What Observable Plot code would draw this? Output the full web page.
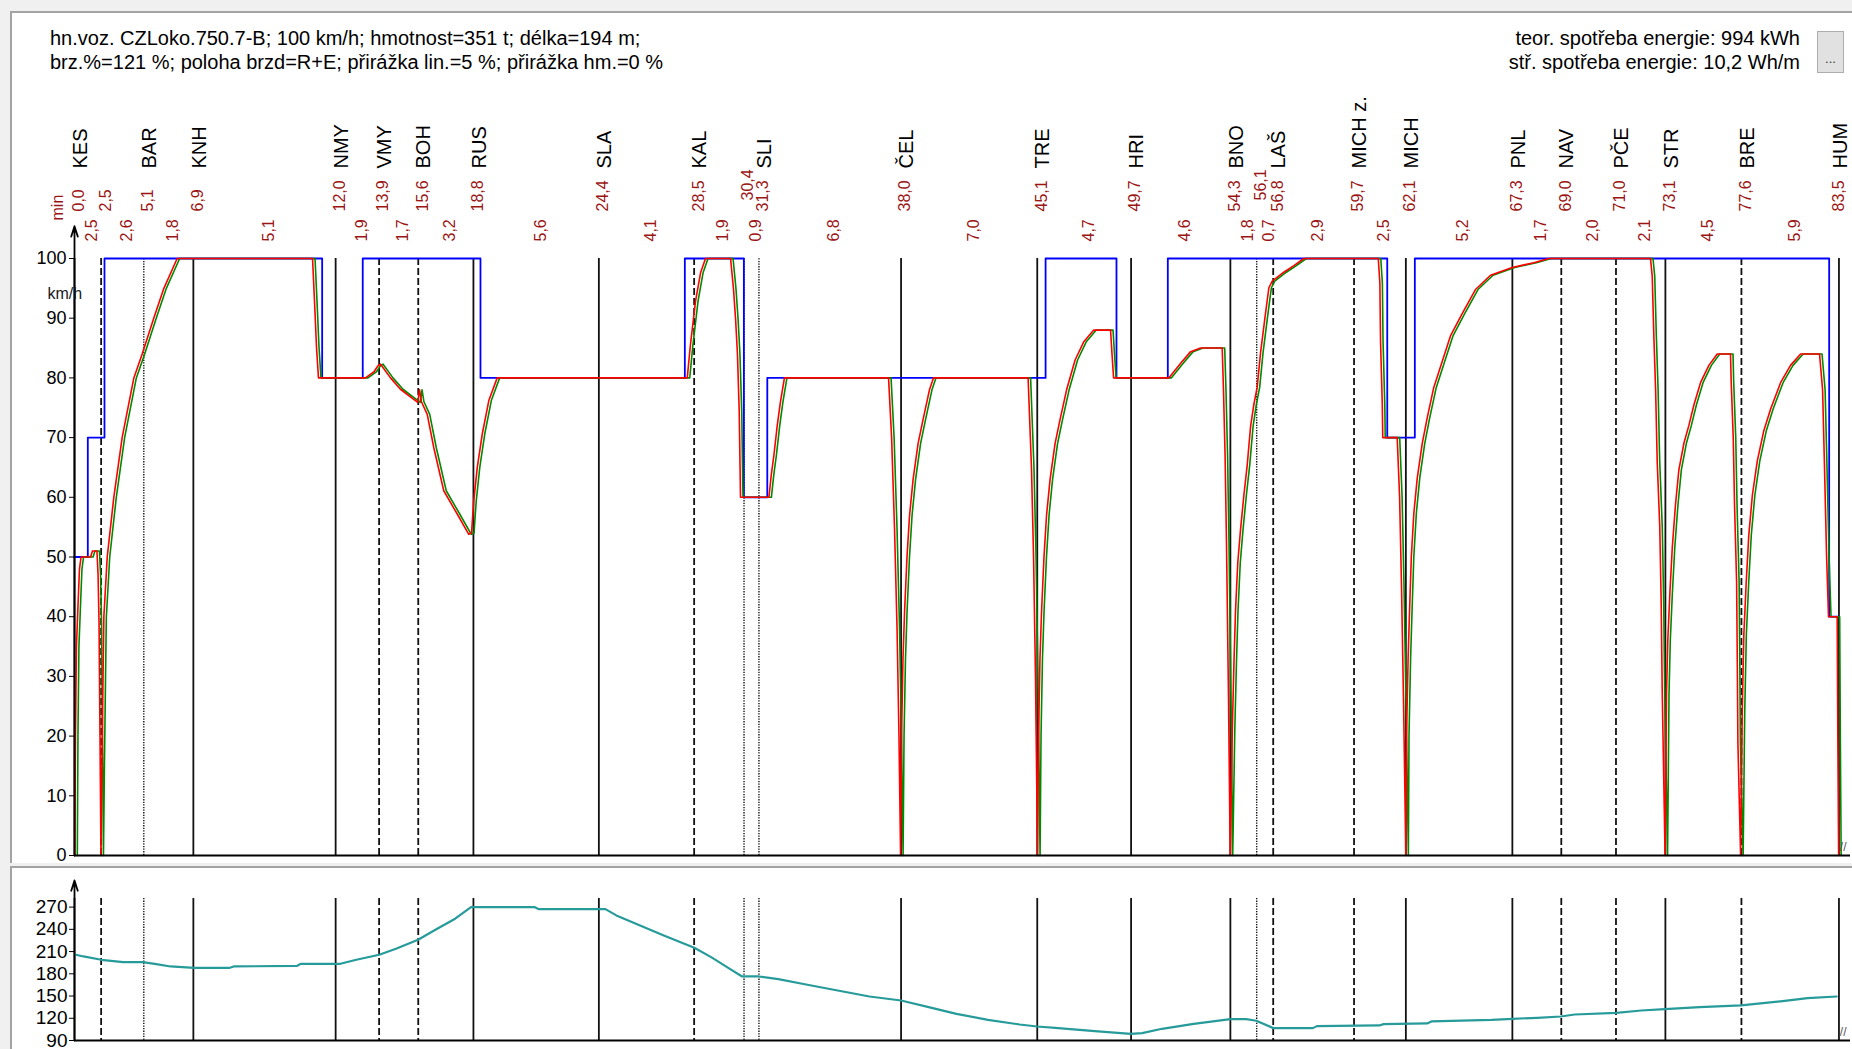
<!DOCTYPE html>
<html>
<head>
<meta charset="utf-8">
<script src="https://cdn.jsdelivr.net/npm/d3@7"></script>
<script src="https://cdn.jsdelivr.net/npm/@observablehq/plot@0.6"></script>
<style>
  html, body { margin: 0; padding: 0; }
  body { width: 1852px; height: 1049px; overflow: hidden; position: relative; background: #f0f0f0;
         font-family: "Liberation Sans", Arial, sans-serif; }
  .panel { position: absolute; left: 10px; width: 1842px; background: #fff; box-sizing: border-box;
           border-top: 2px solid #a3a3a3; border-left: 2px solid #a3a3a3; }
  #p1 { top: 11px; height: 852px; }
  #p2 { top: 866px; height: 183px; }
  .hdr { position: absolute; top: 26px; font-size: 20px; line-height: 24px; color: #000; white-space: nowrap; }
  #btn { position: absolute; left: 1817px; top: 31px; width: 27px; height: 42px; box-sizing: border-box;
         background: #e1e1e1; border: 1px solid #adadad; font-size: 13px; text-align: center; padding-top: 19px; color: #333; }
  .chart { position: absolute; left: 0; }
</style>
</head>
<body>
<div id="p1" class="panel"></div>
<div id="p2" class="panel"></div>
<div class="hdr" style="left:50px">hn.voz. CZLoko.750.7-B; 100 km/h; hmotnost=351 t; délka=194 m;<br>brz.%=121 %; poloha brzd=R+E; přirážka lin.=5 %; přirážka hm.=0 %</div>
<div class="hdr" style="right:52px; text-align:right">teor. spotřeba energie: 994 kWh<br>stř. spotřeba energie: 10,2 Wh/m</div>
<div id="btn">...</div>
<div id="c1" class="chart" style="top:0"></div>
<div id="c2" class="chart" style="top:860px"></div>
<script>
// Stations along the line: name, kilometre, timetable minute, marker style
const stationNames = ["KES","","BAR","KNH","NMY","VMY","BOH","RUS","SLA","KAL","","SLI","ČEL","TRE","HRI","BNO","","LAŠ","MICH z.","MICH","PNL","NAV","PČE","STR","BRE","HUM"];
const stationKm = [0.0,1.66,4.32,7.41,16.28,18.99,21.43,24.87,32.69,38.63,41.74,42.67,51.53,60.02,65.87,72.06,73.70,74.73,79.77,83.00,89.64,92.69,96.10,99.18,103.92,110.00];
const stationMin = [0.0,2.5,5.1,6.9,12.0,13.9,15.6,18.8,24.4,28.5,30.4,31.3,38.0,45.1,49.7,54.3,56.1,56.8,59.7,62.1,67.3,69.0,71.0,73.1,77.6,83.5];
const stationKind = ["solid","dashed","dotted","solid","solid","dashed","dashed","solid","solid","dashed","dotted","dotted","solid","solid","solid","solid","dotted","dashed","dashed","solid","solid","dashed","dashed","solid","dashed","solid"];
// Running time between consecutive stations (min)
const segmentMin = [2.5,2.6,1.8,5.1,1.9,1.7,3.2,5.6,4.1,1.9,0.9,6.8,7.0,4.7,4.6,1.8,0.7,2.9,2.5,5.2,1.7,2.0,2.1,4.5,5.9];

// Line speed limit (step changes)
const limitKm  = [0,0.83,1.87,15.44,17.97,25.31,38.05,41.73,43.19,60.54,64.96,68.16,81.84,83.56,109.39,110.0];
const limitKmh = [50,70,100,80,100,80,100,60,80,100,80,100,70,100,40,40];

// Simulated run: speed along the line
const speedKm = [
  0.02,0.06,0.12,0.22,0.31,0.41,1.00,1.12,1.40,1.47,1.53,1.59,1.65,
  1.71,1.78,1.83,2.04,2.45,2.97,3.70,4.22,4.94,5.57,6.40,
  14.84,14.96,15.09,15.21,
  18.14,18.66,18.91,19.08,19.70,20.32,21.15,21.40,21.51,21.63,21.99,22.40,23.02,23.86,24.58,24.75,24.89,25.11,25.42,25.83,26.35,
  38.20,38.40,38.72,39.03,39.34,40.90,41.08,41.21,41.33,41.44,41.52,
  43.29,43.45,43.60,43.81,44.01,44.26,
  50.75,50.94,51.12,51.28,51.40,51.50,
  51.56,51.65,51.75,51.90,52.06,52.28,52.59,52.90,53.30,53.55,
  59.45,59.66,59.79,59.91,60.04,
  60.10,60.19,60.29,60.44,60.60,60.82,61.13,61.44,61.85,62.38,62.91,63.53,64.59,64.68,64.78,
  68.22,68.95,69.58,70.20,71.55,71.63,71.73,71.82,71.95,72.05,
  72.18,72.28,72.38,72.52,72.69,72.90,73.11,73.32,73.52,73.73,73.94,74.25,74.46,74.67,75.39,76.02,76.64,
  81.28,81.38,81.42,81.53,81.56,82.46,82.61,82.73,82.86,83.00,
  83.04,83.14,83.23,83.34,83.50,83.71,84.02,84.33,84.74,85.27,85.79,86.52,87.34,88.28,89.63,90.98,91.91,
  98.25,98.36,98.46,98.57,98.67,98.83,98.92,98.98,99.05,99.16,
  99.25,99.33,99.46,99.61,99.81,100.02,100.33,100.64,100.96,101.37,101.89,102.41,103.24,
  103.28,103.41,103.49,103.62,103.66,103.70,103.87,
  103.97,104.07,104.22,104.38,104.60,104.91,105.32,105.74,106.36,106.98,107.61,108.79,
  108.98,109.10,109.23,109.35,109.89,109.93,109.98
];
const speedKmh = [
  0,20,35,42,48,50,50,51,51,47,39,20,0,
  15,30,40,50,60,70,80,84,90,95,100,
  100,93,85,80,
  80,81,82,82.3,80,78.1,76.4,75.9,78,76,73.9,68.3,61.1,57.2,53.8,54,59.4,65,70.6,76.2,80,
  80,85.6,92.9,97.6,100,100,95,90,84,74.4,60,
  60,64,67,72,76,80,
  80,70,55,38,20,0,
  20,33,41,50,57,63,69,73,78,80,
  80,65,50,30,0,
  20,33,41,50,57,63,69,73,78,83,86,88,88,84,80,
  80,82.4,84.4,85,85,78,67,52,25,0,
  21,32,41,49,54.5,60.3,65.4,71.9,75.5,78.4,84.2,90.8,95.1,96.2,97.7,98.8,100,
  100,95.9,86.4,75.5,70,70,60,45,25,0,
  20,33,41,50,57.4,63.2,69,73.3,78.4,82.8,87.1,90.8,94.8,97.2,98.5,99.3,100,
  100,97,87,78,66,55,42,28,17,0,
  27,36,44,51.6,58.8,64.6,69,72,75.5,79.2,82.1,84,84,
  79.5,70,58.8,45.8,33.4,18.9,0,
  24,37,45.8,53.7,60.3,66.1,71.2,74.8,79.2,82.1,84,84,
  78,65,50,40,40,20,0
];

// Track elevation profile (m)
const gradeKm = [0.02,0.56,1.67,3.03,4.26,5.00,5.99,7.47,9.68,9.93,13.88,14.12,16.58,17.57,19.00,20.04,21.42,22.50,23.73,24.72,28.67,28.92,33.10,33.78,35.26,36.74,38.64,39.69,40.68,41.62,42.66,43.88,45.61,47.58,49.56,51.53,53.25,54.98,56.95,58.92,60.01,61.14,63.61,65.85,66.56,67.80,69.77,70.98,72.06,73.05,73.67,74.74,77.20,77.46,81.35,81.61,84.33,84.59,88.35,89.64,91.20,92.65,93.53,96.12,97.67,99.15,101.31,103.90,106.49,108.04,109.86];
const gradeM = [206.1,203.4,198.9,195.8,195.8,193.5,189.9,188.1,188.1,189.9,190.8,193.5,193.5,198.9,205.7,213.8,225.9,239.4,254.3,270,270,267.3,267.3,258.8,245.3,231.8,215.1,202.5,189,176.4,176.4,172.8,165.6,157.5,149.4,144,135,126,117.9,111.6,108.9,107.1,102.6,99,99.9,105.8,112.5,115.7,118.8,118.8,116.6,106.7,106.7,109.4,110.3,112.1,113,115.7,117.9,119.3,120.6,122.4,125.1,127.4,130.5,132.3,135,137.3,143.1,147.2,149.4];

const speedTicks = [0,10,20,30,40,50,60,70,80,90,100];
const heightTicks = [90,120,150,180,210,240,270];

// ---- layout ----
const W = 1852, ML = 74, MR = 2;
const xMax = 110.72;
const pxPerKm = (W - ML - MR) / xMax;
const FONT = '"Liberation Sans", Arial, sans-serif';
const NUM = "#9b1515";
const comma = v => v.toFixed(1).replace(".", ",");
const nearRightEdge = km => ML + km * pxPerKm > W - 20;

const stations = stationNames.map((name, i) => ({
  name, km: stationKm[i], min: stationMin[i], kind: stationKind[i],
  raised: i < stationKm.length - 1 && (stationKm[i + 1] - stationKm[i]) * pxPerKm < 18
}));
const segments = segmentMin.map((m, i) => ({km: (stationKm[i] + stationKm[i + 1]) / 2, label: comma(m)}));
const limit = limitKm.map((km, i) => ({km, v: limitKmh[i]}));
const run = speedKm.map((km, i) => ({km, v: speedKmh[i]}));
const profile = gradeKm.map((km, i) => ({km, h: gradeM[i]}));

const dashes = {solid: undefined, dashed: "7,3", dotted: "1.3,1.3"};
const stationRules = extra => ["solid", "dashed", "dotted"].map(kind =>
  Plot.ruleX(stations.filter(d => d.kind === kind), {
    x: "km", stroke: "#111", strokeWidth: kind === "dotted" ? 1.4 : 1.8,
    strokeDasharray: dashes[kind], ...extra
  }));

// rotated labels above the frame; the last station is pulled in from the edge
const topLabels = (rows, text, dy, fontSize, fill) => [
  Plot.text(rows.filter(d => !nearRightEdge(d.km)), {x: "km", text, frameAnchor: "top", rotate: -90,
    textAnchor: "start", dx: -2, dy, fontSize, fill}),
  Plot.text(rows.filter(d => nearRightEdge(d.km)), {x: "km", text, frameAnchor: "top", rotate: -90,
    textAnchor: "start", dx: -6, dy, fontSize, fill})
];

const baseStyle = {background: "transparent", fontFamily: FONT, fontSize: "18px", color: "#000", overflow: "visible"};

const speedChart = Plot.plot({
  width: W, height: 870,
  marginTop: 258, marginBottom: 15, marginLeft: ML, marginRight: MR,
  style: baseStyle,
  x: {domain: [0, xMax], axis: null},
  y: {domain: [0, 100], axis: null},
  marks: [
    ...stationRules({y1: 0, y2: 100}),
    Plot.line(limit, {x: "km", y: "v", curve: "step-after", stroke: "#0000ff", strokeWidth: 1.8}),
    Plot.line(run, {x: "km", y: "v", stroke: "#008a00", strokeWidth: 1.6, dx: 2.5}),
    Plot.line(run, {x: "km", y: "v", stroke: "#ff0000", strokeWidth: 1.6}),
    Plot.ruleY([0], {stroke: "#000", strokeWidth: 2}),
    Plot.arrow([0], {x1: 0, y1: 0, x2: 0, y2: 105.4, stroke: "#000", strokeWidth: 1.8, headLength: 9, headAngle: 35}),
    Plot.axisY({ticks: speedTicks, tickSize: 5, tickPadding: 3, label: null, fontSize: 18, stroke: "#000"}),
    ...topLabels(stations.filter(d => d.name), "name", -90, 20, "#000"),
    ...topLabels(stations.filter(d => !d.raised), d => comma(d.min), -47, 16, NUM),
    ...topLabels(stations.filter(d => d.raised), d => comma(d.min), -58, 16, NUM),
    ...topLabels(segments, "label", -17, 16, NUM),
    Plot.text(["min"], {frameAnchor: "top-left", dx: -23, dy: -38, rotate: -90, textAnchor: "start", fontSize: 16, fill: NUM}),
    Plot.text(["km/h"], {frameAnchor: "top-left", dx: -27, dy: 29, fontSize: 16, fill: "#1a1a1a"}),
    Plot.text(["//"], {frameAnchor: "bottom-right", dx: -4, dy: -5, fontSize: 12, fill: "#555"})
  ]
});
document.getElementById("c1").append(speedChart);

const profileChart = Plot.plot({
  width: W, height: 189,
  marginTop: 38, marginBottom: 9, marginLeft: ML, marginRight: MR,
  style: baseStyle,
  x: {domain: [0, xMax], axis: null},
  y: {domain: [90, 281.6], axis: null},
  marks: [
    ...stationRules({}),
    Plot.line(profile, {x: "km", y: "h", stroke: "#279a9a", strokeWidth: 2.2}),
    Plot.ruleY([90], {stroke: "#000", strokeWidth: 2}),
    Plot.arrow([0], {x1: 0, y1: 90, x2: 0, y2: 306, stroke: "#000", strokeWidth: 1.8, headLength: 9, headAngle: 35}),
    Plot.axisY({ticks: heightTicks, tickSize: 5, tickPadding: 2, label: null, fontSize: 19, stroke: "#000"}),
    Plot.text(["//"], {frameAnchor: "bottom-right", dx: -4, dy: -5, fontSize: 12, fill: "#555"})
  ]
});
document.getElementById("c2").append(profileChart);
</script>
</body>
</html>
